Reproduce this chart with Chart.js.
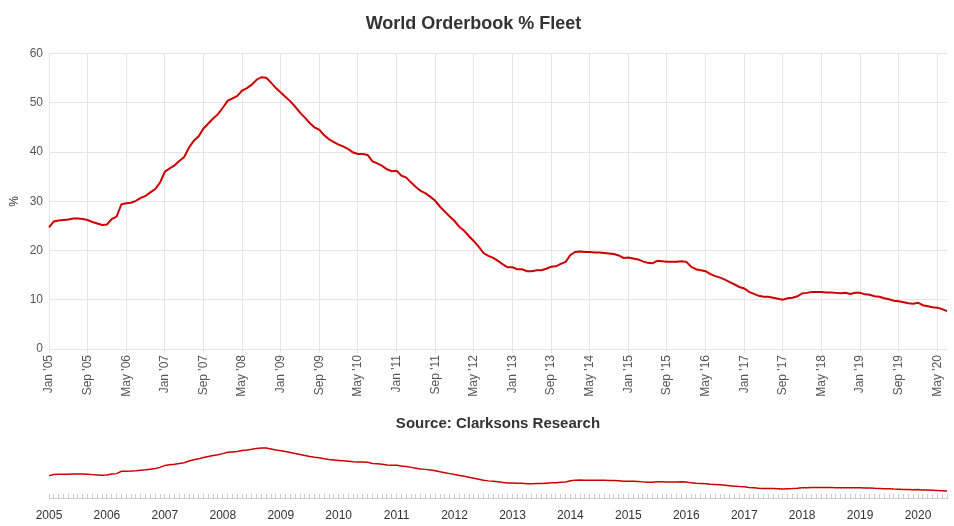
<!DOCTYPE html>
<html>
<head>
<meta charset="utf-8">
<script src="https://cdn.jsdelivr.net/npm/chart.js@4/dist/chart.umd.min.js"></script>
<style>
  body { margin: 0; background: #fff; }
  #top { position: absolute; left: 0; top: 0; width: 954px; height: 405px; }
  #nav { position: absolute; left: 0; top: 405px; width: 954px; height: 121px; }
</style>
</head>
<body>
<div id="top"><canvas id="mainChart"></canvas></div>
<div id="nav"><canvas id="navChart"></canvas></div>
<script>
// monthly, Jan 2005 .. Jul 2020
const startYear = 2005
const monthNames = ['Jan', 'Feb', 'Mar', 'Apr', 'May', 'Jun', 'Jul', 'Aug', 'Sep', 'Oct', 'Nov', 'Dec']
const orderbookPct = [
  24.7, 25.9, 26.1, 26.2, 26.3, 26.5, 26.5, 26.4, 26.2, 25.8, 25.5, 25.2,
  25.3, 26.4, 26.9, 29.4, 29.6, 29.7, 30.1, 30.7, 31.1, 31.8, 32.5, 33.8,
  36.0, 36.7, 37.3, 38.2, 39.0, 40.9, 42.3, 43.2, 44.8, 45.8, 46.8, 47.7,
  49.0, 50.4, 50.9, 51.4, 52.5, 53.0, 53.7, 54.7, 55.2, 55.1, 54.1, 53.0,
  52.1, 51.2, 50.3, 49.2, 48.0, 47.0, 45.9, 45.0, 44.5, 43.4, 42.6, 42.0,
  41.5, 41.1, 40.6, 39.9, 39.6, 39.6, 39.4, 38.1, 37.7, 37.2, 36.5, 36.1,
  36.2, 35.2, 34.8, 33.8, 32.9, 32.1, 31.6, 30.9, 30.1, 28.9, 27.9, 26.9,
  26.0, 24.8, 24.0, 22.9, 21.9, 20.8, 19.5, 18.9, 18.5, 17.9, 17.2, 16.6,
  16.6, 16.2, 16.2, 15.8, 15.8, 16.0, 16.0, 16.3, 16.7, 16.8, 17.3, 17.7,
  19.1, 19.7, 19.8, 19.7, 19.7, 19.6, 19.6, 19.5, 19.4, 19.3, 19.0, 18.5,
  18.6, 18.4, 18.2, 17.8, 17.5, 17.4, 17.9, 17.8, 17.7, 17.7, 17.7, 17.8,
  17.7, 16.7, 16.2, 16.0, 15.8, 15.2, 14.8, 14.5, 14.1, 13.6, 13.1, 12.6,
  12.3, 11.6, 11.2, 10.8, 10.6, 10.6, 10.4, 10.2, 10.0, 10.3, 10.4, 10.7,
  11.3, 11.4, 11.6, 11.6, 11.6, 11.5, 11.5, 11.4, 11.3, 11.4, 11.2, 11.4,
  11.4, 11.1, 11.0, 10.7, 10.6, 10.3, 10.1, 9.8, 9.7, 9.5, 9.3, 9.2,
  9.4, 8.9, 8.7, 8.5, 8.4, 8.1, 7.7
]
const yTicks = [0, 10, 20, 30, 40, 50, 60]

const monthLabels = []
const yearLabels = []
for (let i = 0; i < orderbookPct.length; i++) {
  const y = startYear + Math.floor(i / 12)
  monthLabels.push(`${monthNames[i % 12]} '${String(y).slice(2)}`)
  yearLabels.push(i % 12 === 0 ? String(y) : '')
}

const red = '#cc0000'
const gridColor = '#e6e6e6'
Chart.defaults.font.family = '"Liberation Sans", Arial, sans-serif'
Chart.defaults.animation = false

// keep the x range fixed, don't let edge labels push the plot in
function noEdgePad(s) {
  s.paddingLeft = 0
  s.paddingRight = 0
}

new Chart(document.getElementById('mainChart'), {
  type: 'line',
  data: {
    labels: monthLabels,
    datasets: [{
      label: 'World Orderbook % Fleet',
      data: orderbookPct,
      borderColor: red,
      backgroundColor: red,
      borderWidth: 2,
      pointRadius: 0,
      tension: 0
    }]
  },
  options: {
    responsive: true,
    maintainAspectRatio: false,
    layout: {padding: {left: 0, right: 7, top: 0, bottom: 0}},
    plugins: {
      legend: {display: false},
      tooltip: {enabled: false},
      title: {
        display: true,
        text: 'World Orderbook % Fleet',
        color: '#333333',
        font: {size: 18, weight: 'bold'},
        padding: {top: 13, bottom: 19}
      }
    },
    scales: {
      x: {
        border: {display: false},
        grid: {
          color: ctx => ctx.index % 8 === 0 ? gridColor : 'rgba(0,0,0,0)',
          tickLength: 4
        },
        ticks: {
          autoSkip: false,
          minRotation: 90,
          maxRotation: 90,
          color: '#555555',
          font: {size: 12},
          padding: 2,
          callback: (v, i) => i % 8 === 0 ? monthLabels[i] : ''
        },
        afterFit: s => { s.height = 56; noEdgePad(s) }
      },
      y: {
        min: 0,
        max: 60,
        afterBuildTicks: s => { s.ticks = yTicks.map(v => ({value: v})) },
        border: {display: false},
        grid: {color: gridColor, drawTicks: false},
        ticks: {color: '#555555', font: {size: 12}, padding: 6},
        title: {display: true, text: '%', color: '#333333', font: {size: 12}, padding: {top: 7, bottom: 0}},
        afterFit: s => { s.width = 49 }
      }
    }
  }
})

new Chart(document.getElementById('navChart'), {
  type: 'line',
  data: {
    labels: yearLabels,
    datasets: [{
      data: orderbookPct,
      borderColor: red,
      borderWidth: 1.5,
      pointRadius: 0,
      tension: 0
    }]
  },
  options: {
    responsive: true,
    maintainAspectRatio: false,
    layout: {padding: {left: 49, right: 7, top: 0, bottom: 0}},
    plugins: {
      legend: {display: false},
      tooltip: {enabled: false},
      title: {
        display: true,
        text: 'Source: Clarksons Research',
        color: '#333333',
        font: {size: 15, weight: 'bold'},
        padding: {top: 10, bottom: 12}
      }
    },
    scales: {
      x: {
        border: {display: true, color: '#cccccc'},
        grid: {drawOnChartArea: false, color: '#cccccc', tickLength: -4},
        ticks: {autoSkip: false, maxRotation: 0, color: '#333333', font: {size: 12}, padding: 14},
        afterFit: s => { s.height = 28; noEdgePad(s) }
      },
      y: {display: false, min: 0, max: 58.5}
    }
  }
})
</script>
</body>
</html>
